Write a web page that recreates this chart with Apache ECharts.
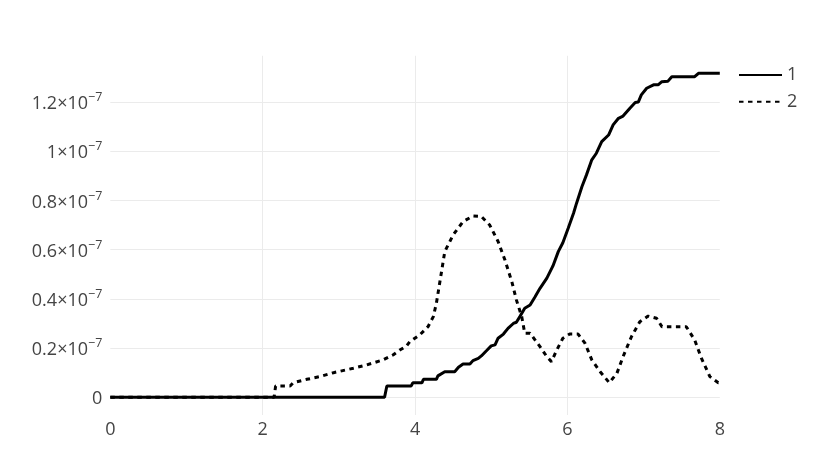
<!DOCTYPE html>
<html>
<head>
<meta charset="utf-8">
<script src="https://cdn.jsdelivr.net/npm/echarts@6/dist/echarts.min.js"></script>
<style>
  html, body { margin: 0; padding: 0; background: #fff; }
  #main { width: 830px; height: 471px; }
</style>
</head>
<body>
<div id="main"></div>
<script>
// values are in units of 1e-7
var names = ['1', '2'];

var line1 = [
  [0, 0], [3.6, 0], [3.63, 0.046], [3.95, 0.046], [3.97, 0.059], [4.09, 0.059],
  [4.11, 0.073], [4.28, 0.073], [4.30, 0.087], [4.39, 0.104], [4.52, 0.104],
  [4.57, 0.122], [4.63, 0.135], [4.72, 0.135], [4.76, 0.149], [4.83, 0.158],
  [4.87, 0.168], [4.94, 0.19], [5.0, 0.209], [5.05, 0.213], [5.09, 0.24],
  [5.16, 0.257], [5.22, 0.28], [5.29, 0.30], [5.33, 0.305], [5.38, 0.33],
  [5.44, 0.362], [5.51, 0.375], [5.57, 0.406], [5.64, 0.443], [5.73, 0.484],
  [5.81, 0.534], [5.88, 0.592], [5.94, 0.628], [6.01, 0.687], [6.08, 0.748],
  [6.12, 0.789], [6.19, 0.856], [6.25, 0.904], [6.32, 0.965], [6.38, 0.992],
  [6.45, 1.039], [6.54, 1.066], [6.60, 1.107], [6.67, 1.134], [6.73, 1.143],
  [6.82, 1.175], [6.89, 1.198], [6.93, 1.20], [6.97, 1.229], [7.04, 1.256],
  [7.13, 1.27], [7.19, 1.27], [7.24, 1.283], [7.32, 1.285], [7.37, 1.303],
  [7.67, 1.303], [7.72, 1.317], [8, 1.317]
];

var line2 = [
  [0, 0], [2.15, 0], [2.17, 0.046], [2.36, 0.046], [2.40, 0.059], [2.58, 0.073],
  [2.75, 0.084], [2.93, 0.10], [3.19, 0.118], [3.36, 0.131], [3.58, 0.152],
  [3.71, 0.172], [3.80, 0.192], [3.89, 0.209], [3.93, 0.226], [4.06, 0.253],
  [4.17, 0.287], [4.24, 0.328], [4.28, 0.382], [4.33, 0.477], [4.39, 0.592],
  [4.50, 0.66], [4.63, 0.714], [4.76, 0.737], [4.87, 0.735], [4.98, 0.70],
  [5.09, 0.633], [5.18, 0.558], [5.27, 0.47], [5.33, 0.396], [5.40, 0.328],
  [5.44, 0.26], [5.51, 0.26], [5.64, 0.206], [5.73, 0.165], [5.79, 0.145],
  [5.86, 0.192], [5.94, 0.24], [6.03, 0.257], [6.14, 0.257], [6.23, 0.22],
  [6.32, 0.152], [6.43, 0.104], [6.55, 0.059], [6.65, 0.098], [6.73, 0.165],
  [6.84, 0.246], [6.95, 0.307], [7.06, 0.33], [7.17, 0.321], [7.24, 0.287],
  [7.56, 0.287], [7.67, 0.233], [7.76, 0.158], [7.87, 0.084], [7.98, 0.059],
  [8, 0.059]
];

var xTicks = [0, 2, 4, 6, 8];
var yTicks = [0, 0.2, 0.4, 0.6, 0.8, 1, 1.2];
var yRange = [-0.072, 1.388];

var chart = echarts.init(document.getElementById('main'));

var font = '"Open Sans", "Noto Sans", sans-serif';

function yLabel(v) {
  if (Math.abs(v) < 1e-9) return '{a|0}';
  var s = Math.abs(v - 1) < 1e-9 ? '1' : v.toFixed(1);
  return '{a|' + s + '×10}{s|−7}';
}

// horizontal grid lines at the y tick values
var gridLines = {
  silent: true,
  symbol: 'none',
  z: 1,
  label: { show: false },
  lineStyle: { color: '#ebebeb', width: 1, type: 'solid' },
  emphasis: { disabled: true },
  data: yTicks.map(function (v) { return { yAxis: v }; })
};

option = {
  animation: false,
  backgroundColor: '#fff',
  grid: { left: 110.3, right: 110.2, top: 55.8, bottom: 56 },
  legend: {
    orient: 'vertical',
    left: 738,
    top: 66,
    padding: 0,
    itemWidth: 43,
    itemHeight: 18,
    itemGap: 8.7,
    itemStyle: { opacity: 0 },
    textStyle: { fontFamily: font, fontSize: 18, color: '#444' },
    data: names
  },
  xAxis: {
    type: 'value',
    min: xTicks[0],
    max: xTicks[xTicks.length - 1],
    interval: 2,
    axisLine: { show: false },
    axisTick: { show: false },
    axisLabel: { fontFamily: font, fontSize: 18, color: '#444', margin: 6 },
    splitLine: { show: true, showMinLine: false, showMaxLine: false, lineStyle: { color: '#ebebeb', width: 1 } }
  },
  yAxis: {
    type: 'value',
    min: yRange[0],
    max: yRange[1],
    axisLine: { show: false },
    axisTick: { show: false },
    axisLabel: {
      margin: 8,
      customValues: yTicks,
      formatter: yLabel,
      rich: {
        a: { fontFamily: font, fontSize: 18, color: '#444', lineHeight: 22, verticalAlign: 'bottom' },
        s: { fontFamily: font, fontSize: 12.5, color: '#444', lineHeight: 22, verticalAlign: 'top', padding: [0, 0, 8, 0] }
      }
    },
    splitLine: { show: false }
  },
  series: [
    {
      name: names[0],
      type: 'line',
      data: line1,
      symbol: 'none',
      z: 3,
      lineStyle: { color: '#000', width: 3 },
      itemStyle: { color: '#000' },
      markLine: gridLines
    },
    {
      name: names[1],
      type: 'line',
      data: line2,
      symbol: 'none',
      z: 3,
      lineStyle: { color: '#000', width: 3, type: [4.5, 4.5] },
      itemStyle: { color: '#000' }
    }
  ]
};
chart.setOption(option);
</script>
</body>
</html>
